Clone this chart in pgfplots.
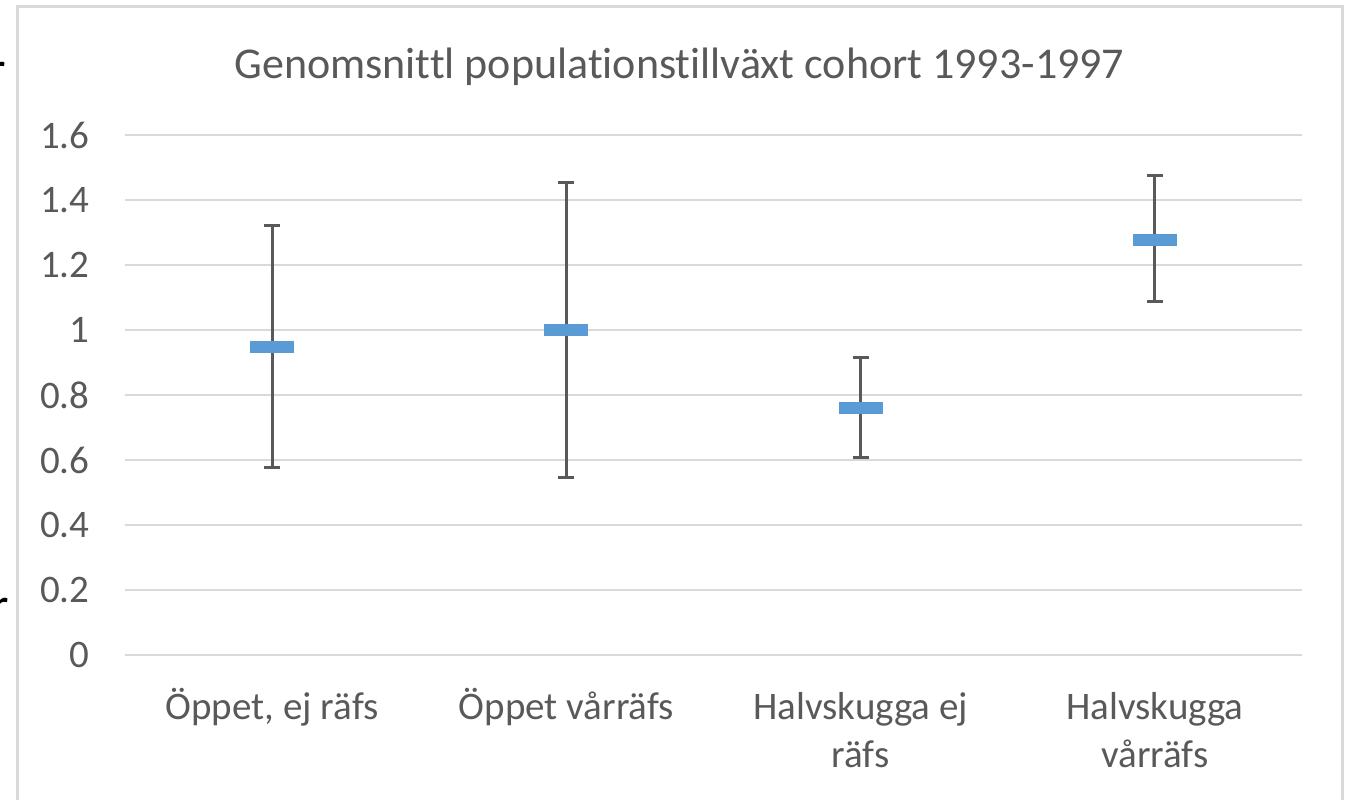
\documentclass[border=0pt]{standalone}
\usepackage{pgfplots}
\pgfplotsset{compat=1.18}
\usepackage{fontspec}
\setmainfont{Carlito}[Ligatures={NoCommon}]
\definecolor{gridgray}{HTML}{D9D9D9}
\definecolor{txtgray}{HTML}{595959}
\definecolor{barblue}{HTML}{5B9BD5}
\definecolor{errgray}{HTML}{595959}
\pgfdeclareplotmark{hbar}{%
  \pgfpathrectangle{\pgfpoint{-11pt}{-3pt}}{\pgfpoint{22pt}{6pt}}%
  \pgfusepathqfill}
\begin{document}
\begin{tikzpicture}
\useasboundingbox (0pt,0pt) rectangle (675pt,399.5pt);
\begin{scope}
\clip (0pt,0pt) rectangle (675pt,399.5pt);
\node[anchor=base east, inner sep=0pt, font=\fontsize{25}{30}\selectfont] at (3pt,356pt) {r};
\node[anchor=base east, inner sep=0pt, font=\fontsize{25}{30}\selectfont] at (1.5pt,227pt) {n};
\node[anchor=base east, inner sep=0pt, font=\fontsize{25}{30}\selectfont] at (4.8pt,88.5pt) {r};
\draw[gridgray, line width=1.5pt] (8.75pt,-10pt) rectangle (671pt,396.25pt);
\end{scope}
\node[anchor=base, text=txtgray, font=\fontsize{22}{26}\selectfont] at (339.75pt,360pt) {Genomsnittl populationstillväxt cohort 1993-1997};
\begin{axis}[
  at={(62.5pt,72pt)}, anchor=south west,
  scale only axis, width=588.5pt, height=260pt,
  xmin=-0.5, xmax=3.5, ymin=0, ymax=1.6,
  ytick={0,0.2,...,1.6},
  yticklabels={0,0.2,0.4,0.6,0.8,1,1.2,1.4,1.6},
  xtick={0,1,2,3},
  xticklabels={{\strut Öppet, ej räfs},{\strut Öppet vårräfs},{\strut Halvskugga ej\\räfs},{\strut Halvskugga\\vårräfs}},
  ymajorgrids, grid style={gridgray, line width=1pt},
  axis line style={draw=none},
  major tick style={draw=none},
  tick label style={text=txtgray},
  yticklabel style={font=\fontsize{19.5}{24}\selectfont, inner sep=0pt, anchor=east, xshift=-17.5pt},
  xticklabel style={font=\fontsize{19.5}{24}\selectfont, align=center, inner sep=0pt, anchor=north, yshift=-15.2pt},
  clip=false,
]
\addplot[only marks, mark=hbar, color=barblue,
  error bars/.cd, y dir=both, y explicit,
  error bar style={errgray, line width=1.5pt},
  error mark options={rotate=90, mark size=4pt, errgray, line width=1.5pt}]
  table[x=x, y=y, y error plus=ep, y error minus=em] {
x y ep em
0 0.948 0.372 0.370
1 1.000 0.455 0.455
2 0.760 0.154 0.151
3 1.277 0.197 0.188
};
\end{axis}
\end{tikzpicture}
\end{document}
